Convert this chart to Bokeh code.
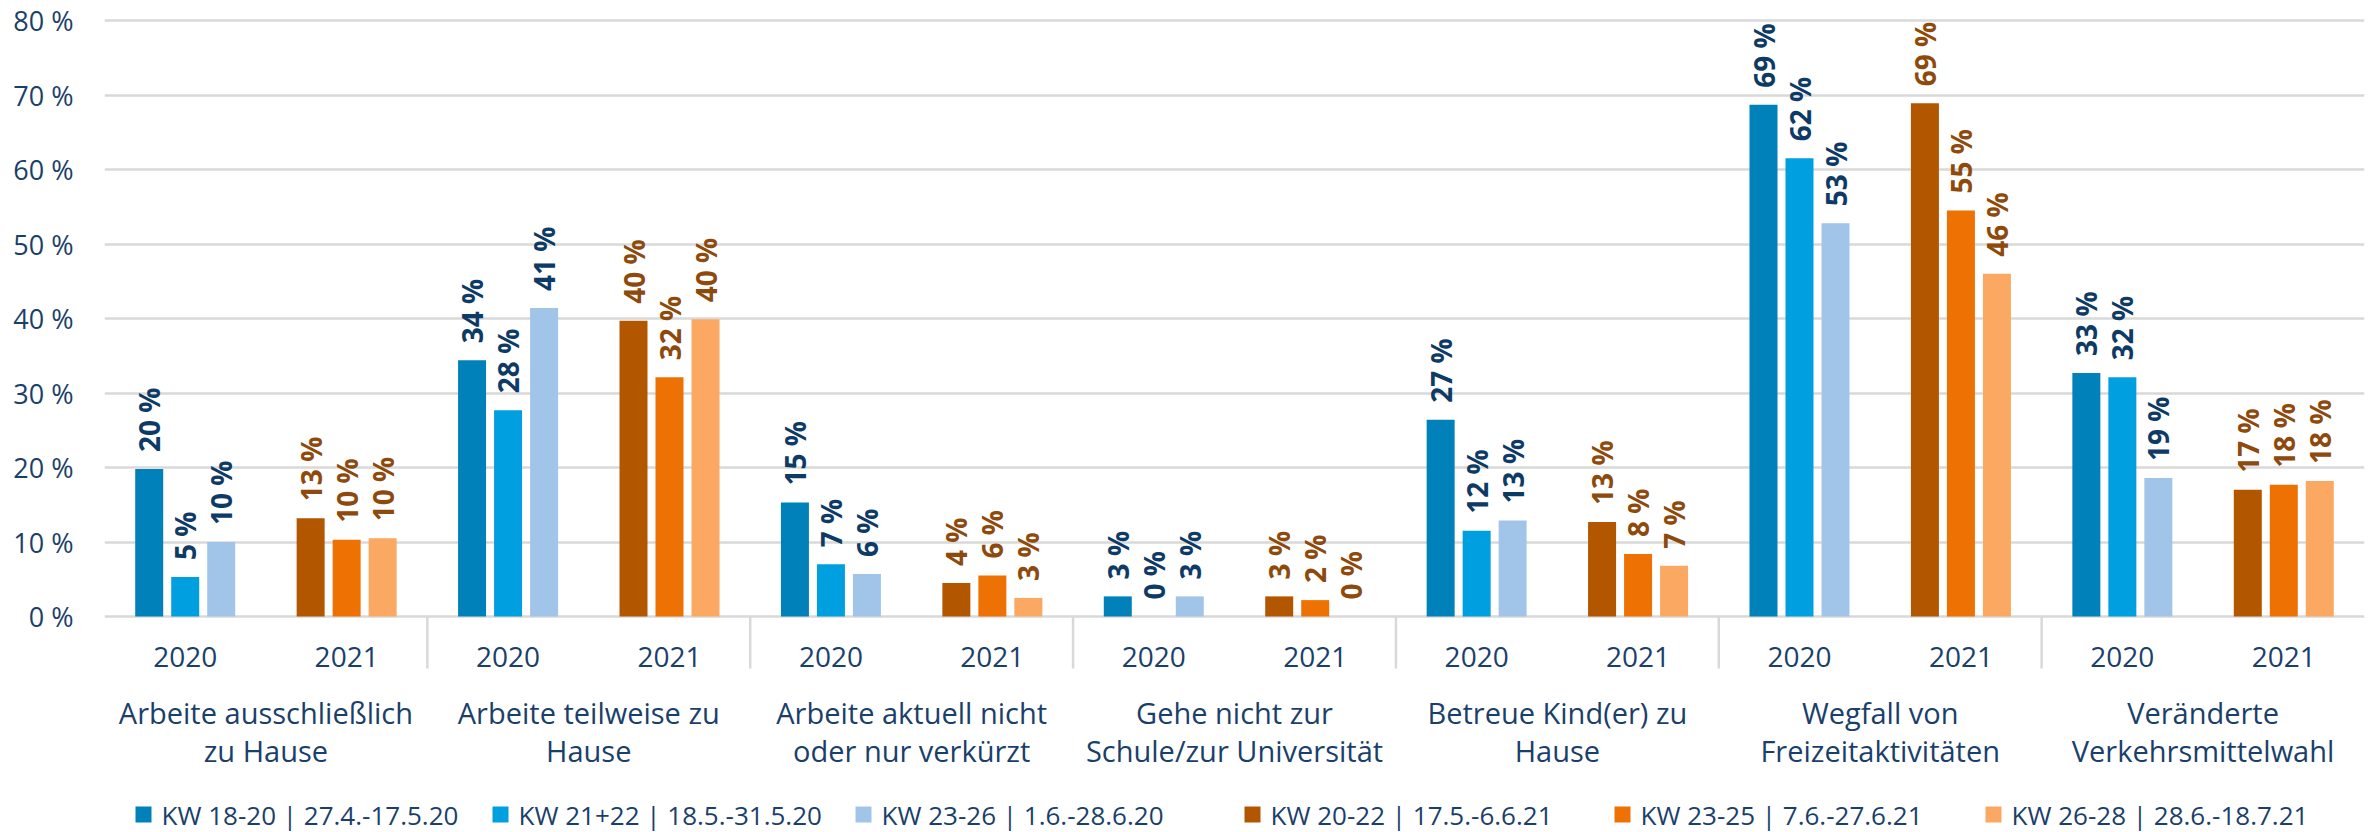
import numpy as np
from bokeh.plotting import figure
from bokeh.models import ColumnDataSource, FixedTicker, Range1d, PrintfTickFormatter
from bokeh.core.properties import value
from bokeh.embed import file_html
from bokeh.resources import INLINE

# ---------------- data ----------------
categories = [
    "Arbeite ausschließlich\nzu Hause",
    "Arbeite teilweise zu\nHause",
    "Arbeite aktuell nicht\noder nur verkürzt",
    "Gehe nicht zur\nSchule/zur Universität",
    "Betreue Kind(er) zu\nHause",
    "Wegfall von\nFreizeitaktivitäten",
    "Veränderte\nVerkehrsmittelwahl",
]
years = ["2020", "2021"]
series_names = [
    "KW 18-20 | 27.4.-17.5.20",
    "KW 21+22 | 18.5.-31.5.20",
    "KW 23-26 | 1.6.-28.6.20",
    "KW 20-22 | 17.5.-6.6.21",
    "KW 23-25 | 7.6.-27.6.21",
    "KW 26-28 | 28.6.-18.7.21",
]
series_year = [0, 0, 0, 1, 1, 1]

kw18_20_2020 = [19.8, 34.4, 15.3, 2.7, 26.4, 68.7, 32.7]
kw21_22_2020 = [5.3, 27.7, 7.0, 0.0, 11.5, 61.5, 32.1]
kw23_26_2020 = [10.0, 41.4, 5.7, 2.7, 12.9, 52.8, 18.6]
kw20_22_2021 = [13.2, 39.7, 4.5, 2.7, 12.7, 68.9, 17.0]
kw23_25_2021 = [10.3, 32.1, 5.5, 2.2, 8.4, 54.5, 17.7]
kw26_28_2021 = [10.5, 39.9, 2.5, 0.0, 6.8, 46.0, 18.2]

lbl_kw18_20_2020 = [20, 34, 15, 3, 27, 69, 33]
lbl_kw21_22_2020 = [5, 28, 7, 0, 12, 62, 32]
lbl_kw23_26_2020 = [10, 41, 6, 3, 13, 53, 19]
lbl_kw20_22_2021 = [13, 40, 4, 3, 13, 69, 17]
lbl_kw23_25_2021 = [10, 32, 6, 2, 8, 55, 18]
lbl_kw26_28_2021 = [10, 40, 3, 0, 7, 46, 18]

y_ticks = [0, 10, 20, 30, 40, 50, 60, 70, 80]

series_values = [kw18_20_2020, kw21_22_2020, kw23_26_2020,
                 kw20_22_2021, kw23_25_2021, kw26_28_2021]
series_labels = [lbl_kw18_20_2020, lbl_kw21_22_2020, lbl_kw23_26_2020,
                 lbl_kw20_22_2021, lbl_kw23_25_2021, lbl_kw26_28_2021]

# ---------------- styles ----------------
bar_colors = ["#0081B9", "#009FDF", "#A1C5E9", "#B35600", "#EE7203", "#FBA962"]
label_colors = ["#0E3A66", "#8E4A0C"]
text_color = "#1B3F6B"
grid_color = "#D9D9D9"
FONT = "Open Sans"

W, H = 2374, 832
ML, MR, MT, MB = 104, 10, 4, 0
FRAME_W = W - ML - MR
FRAME_H = H - MT - MB
PX_X = FRAME_W / 7.0          # px per group
PX_Y = 7.45                   # px per percent
Y_END = 80 + 16 / PX_Y
Y_START = Y_END - FRAME_H / PX_Y

def dx(px):
    return px / PX_X

def dy(px):
    return px / PX_Y

p = figure(width=W, height=H, x_range=Range1d(0, 7), y_range=Range1d(Y_START, Y_END),
           output_backend="svg", toolbar_location=None, x_axis_location=None,
           min_border_left=ML, min_border_right=MR, min_border_top=MT, min_border_bottom=MB)
p.outline_line_color = None
p.background_fill_color = "white"
p.border_fill_color = "white"
p.xgrid.visible = False
p.ygrid.ticker = FixedTicker(ticks=y_ticks)
p.ygrid.grid_line_color = grid_color
p.ygrid.grid_line_width = 2.5

ax = p.yaxis[0]
ax.ticker = FixedTicker(ticks=y_ticks)
ax.formatter = PrintfTickFormatter(format="%d %%")
ax.axis_line_color = None
ax.major_tick_line_color = None
ax.minor_tick_line_color = None
ax.major_tick_in = 0
ax.major_tick_out = 0
ax.major_label_standoff = 31
ax.major_label_text_font = FONT
ax.major_label_text_font_size = "27px"
ax.major_label_text_color = text_color

# ---------------- bars ----------------
bar_w = dx(28)
step = dx(36)
for s, (vals, lbls) in enumerate(zip(series_values, series_labels)):
    yi = series_year[s]
    j = s % 3 - 1
    xs = [g + 0.25 + 0.5 * yi + j * step for g in range(len(categories))]
    src = ColumnDataSource(dict(
        x=xs, top=vals,
        ly=[v + dy(17) for v in vals],
        txt=[f"{l} %" for l in lbls],
    ))
    p.vbar(x="x", top="top", bottom=0, width=bar_w, source=src,
           fill_color=bar_colors[s], line_color=None)
    p.text(x="x", y="ly", text="txt", source=src, angle=np.pi / 2,
           text_align="left", text_baseline="middle",
           text_font=value(FONT), text_font_style="bold",
           text_font_size="28px", text_color=label_colors[yi])

# ---------------- category axis ----------------
n = len(categories)
sep_x = list(range(1, n))
p.segment(x0=sep_x, y0=[0] * len(sep_x), x1=sep_x, y1=[-dy(52)] * len(sep_x),
          line_color=grid_color, line_width=2.5)

yr_x = [g + 0.25 + 0.5 * k for g in range(n) for k in range(2)]
yr_t = [years[k] for g in range(n) for k in range(2)]
p.text(x=yr_x, y=[-dy(40)] * len(yr_x), text=yr_t, text_align="center",
       text_baseline="middle", text_font=value(FONT), text_font_size="28px",
       text_color=text_color)

line1 = [c.split("\n")[0] for c in categories]
line2 = [c.split("\n")[1] for c in categories]
cx = [g + 0.5 for g in range(n)]
p.text(x=cx, y=[-dy(96)] * n, text=line1, text_align="center", text_baseline="middle",
       text_font=value(FONT), text_font_size="29px", text_color=text_color)
p.text(x=cx, y=[-dy(134)] * n, text=line2, text_align="center", text_baseline="middle",
       text_font=value(FONT), text_font_size="29px", text_color=text_color)

# ---------------- legend ----------------
leg_px = [135, 492, 855, 1244, 1614, 1985]   # left edge of swatches (page px)
leg_y = -dy(814 - 616)
sq_x = [dx(px - ML + 8) for px in leg_px]
tx_x = [dx(px - ML + 26) for px in leg_px]
p.rect(x=sq_x, y=[leg_y] * 6, width=16, height=16, width_units="screen",
       height_units="screen", fill_color=bar_colors, line_color=None)
p.text(x=tx_x, y=[leg_y] * 6, text=series_names, text_align="left",
       text_baseline="middle", text_font=value(FONT), text_font_size="26px",
       text_color=text_color)

open("out.html", "w").write(file_html(p, INLINE))
